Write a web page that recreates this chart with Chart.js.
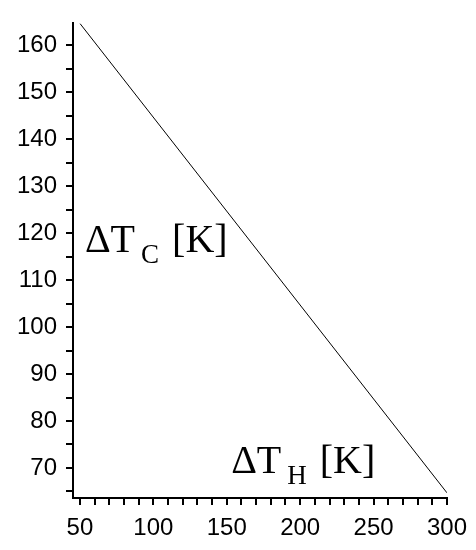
<!DOCTYPE html>
<html>
<head>
<meta charset="utf-8">
<script src="https://cdn.jsdelivr.net/npm/chart.js@4"></script>
<style>
  html, body { margin: 0; padding: 0; background: #fff; }
  #wrap { width: 476px; height: 550px; position: relative; }
</style>
</head>
<body>
<div id="wrap"><canvas id="chart"></canvas></div>
<script>
// values
const dTH = [50, 300];
const dTC = [164.7, 64.7];

const xMin = 45.3, xMax = 300;
const yMin = 63.6, yMax = 164.7;

// tick marks (every one gets a mark, only the labelled ones get text)
const xTicks = [50, 60, 70, 80, 90, 100, 110, 120, 130, 140, 150, 160, 170, 180, 190,
                200, 210, 220, 230, 240, 250, 260, 270, 280, 290, 300];
const xTickLabels = [50, 100, 150, 200, 250, 300];
const yTicks = [65, 70, 75, 80, 85, 90, 95, 100, 105, 110, 115, 120, 125, 130, 135,
                140, 145, 150, 155, 160];
const yTickLabels = [70, 80, 90, 100, 110, 120, 130, 140, 150, 160];

// axis captions, placed in data coordinates
const labels = [
    { main: 'ΔT', sub: 'C', rest: '[K]', x: 53.4, y: 115.9 },
    { main: 'ΔT', sub: 'H', rest: '[K]', x: 153, y: 68.9 }
];

const captionPlugin = {
    id: 'captions',
    afterDraw(chart) {
        const ctx = chart.ctx;
        const xs = chart.scales.x, ys = chart.scales.y;
        ctx.save();
        ctx.fillStyle = '#000';
        ctx.textBaseline = 'alphabetic';
        labels.forEach(l => {
            let px = xs.getPixelForValue(l.x);
            const py = ys.getPixelForValue(l.y);
            ctx.font = '40px "Liberation Serif"';
            ctx.fillText(l.main, px, py);
            px += ctx.measureText(l.main).width + 6;
            ctx.font = '27px "Liberation Serif"';
            ctx.fillText(l.sub, px, py + 11);
            px += ctx.measureText(l.sub).width + 13;
            ctx.font = '40px "Liberation Serif"';
            ctx.fillText(l.rest, px, py);
        });
        ctx.restore();
    }
};

const tickFont = { family: 'Liberation Sans', size: 24 };

new Chart(document.getElementById('chart'), {
    type: 'scatter',
    data: {
        datasets: [{
            data: dTH.map((x, i) => ({ x: x, y: dTC[i] })),
            showLine: true,
            borderColor: '#000',
            borderWidth: 1,
            pointRadius: 0,
            fill: false
        }]
    },
    options: {
        responsive: true,
        maintainAspectRatio: false,
        animation: false,
        layout: { padding: { top: 22, right: 27, left: 0, bottom: 0 } },
        plugins: { legend: { display: false }, tooltip: { enabled: false } },
        scales: {
            x: {
                type: 'linear',
                min: xMin,
                max: xMax,
                afterBuildTicks: axis => {
                    axis.ticks = xTicks.map(v => ({ value: v }));
                },
                afterFit: axis => { axis.height = 52; },
                ticks: {
                    autoSkip: false,
                    maxRotation: 0,
                    color: '#000',
                    font: tickFont,
                    padding: 9,
                    callback: v => (xTickLabels.includes(v) ? String(v) : '')
                },
                grid: { drawOnChartArea: false, tickLength: 7, color: '#000', lineWidth: 2 },
                border: { color: '#000', width: 2 }
            },
            y: {
                min: yMin,
                max: yMax,
                afterBuildTicks: axis => {
                    axis.ticks = yTicks.map(v => ({ value: v }));
                },
                afterFit: axis => { axis.width = 73; },
                ticks: {
                    autoSkip: false,
                    color: '#000',
                    font: tickFont,
                    padding: 9,
                    callback: v => (yTickLabels.includes(v) ? String(v) : '')
                },
                grid: { drawOnChartArea: false, tickLength: 7, color: '#000', lineWidth: 2 },
                border: { color: '#000', width: 2 }
            }
        }
    },
    plugins: [captionPlugin]
});
</script>
</body>
</html>
